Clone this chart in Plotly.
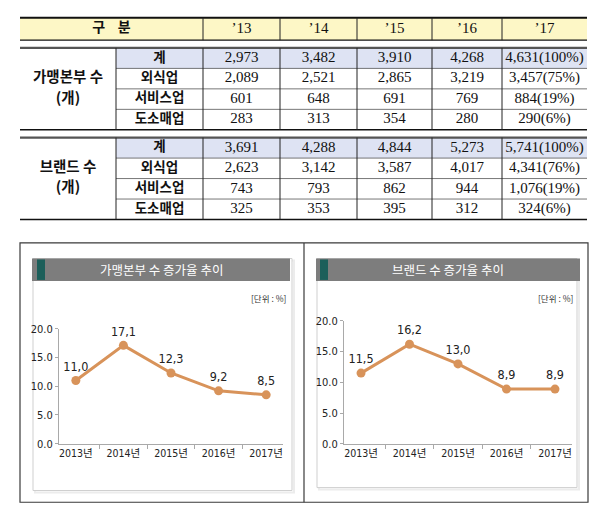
import plotly.graph_objects as go

# ---------------- data ----------------
table_header = ["구    분", "’13", "’14", "’15", "’16", "’17"]
row_labels = ["계", "외식업", "서비스업", "도소매업"]
group_labels = [("가맹본부 수", "(개)"), ("브랜드 수", "(개)")]

hq_total = [2973, 3482, 3910, 4268, 4631]
hq_food = [2089, 2521, 2865, 3219, 3457]
hq_service = [601, 648, 691, 769, 884]
hq_retail = [283, 313, 354, 280, 290]
hq_share17 = [100, 75, 19, 6]

br_total = [3691, 4288, 4844, 5273, 5741]
br_food = [2623, 3142, 3587, 4017, 4341]
br_service = [743, 793, 862, 944, 1076]
br_retail = [325, 353, 395, 312, 324]
br_share17 = [100, 76, 19, 6]

chart_years = ["2013년", "2014년", "2015년", "2016년", "2017년"]
hq_growth = [11.0, 17.1, 12.3, 9.2, 8.5]
br_growth = [11.5, 16.2, 13.0, 8.9, 8.9]
chart_titles = ["가맹본부 수 증가율 추이", "브랜드 수 증가율 추이"]
unit_label = "[단위 : %]"
y_ticks = [0, 5, 10, 15, 20]

# ---------------- layout constants ----------------
W, H = 600, 518
KR = "Noto Sans CJK KR"
SERIF = "Liberation Serif, DejaVu Serif, serif"
NARROW = "Liberation Sans Narrow, DejaVu Sans Condensed, Noto Sans CJK KR"
LINE_COLOR = "#D8935A"


def px(x):
    return x / W


def py(y):
    return 1 - y / H


fig = go.Figure()
shapes = []
annotations = []

# ================= TABLE (on its own axes) =================
col_w = [96, 87, 77, 77, 75, 70, 85]
col_edges = [0]
for w in col_w:
    col_edges.append(col_edges[-1] + w)
col_c = [(col_edges[i] + col_edges[i + 1]) / 2 for i in range(len(col_w))]
tot_w = col_edges[-1]

hdr_h, gap_h, row_h = 23, 8, 21
sec_tops = [hdr_h + gap_h, hdr_h + gap_h + 4 * row_h + gap_h]
tot_h = sec_tops[1] + 4 * row_h

TX0, TY0 = 20, 12  # table origin in page pixels
PAD = 3

fig.update_layout(
    xaxis3=dict(domain=[px(TX0 - PAD), px(TX0 + tot_w + PAD)], range=[-PAD, tot_w + PAD],
                visible=False, fixedrange=True),
    yaxis3=dict(domain=[py(TY0 + tot_h + PAD), py(TY0 - PAD)], range=[tot_h + PAD, -PAD],
                visible=False, fixedrange=True, anchor="x3"),
)


def tshape(**kw):
    d = dict(xref="x3", yref="y3", layer="below")
    d.update(kw)
    shapes.append(d)


def tline(x0, y0, x1, y1, color="#000", width=1):
    tshape(type="line", x0=x0, y0=y0, x1=x1, y1=y1, line=dict(color=color, width=width), layer="above")


# header
tshape(type="rect", x0=0, x1=tot_w, y0=0, y1=hdr_h, fillcolor="#fdf7c6", line=dict(width=0))
tline(0, 0, tot_w, 0, "#111", 2)
tline(0, hdr_h, tot_w, hdr_h, "#111", 1.2)
for e in col_edges[2:-1]:
    tline(e, 0, e, hdr_h, "#222", 1)

hdr_x = [(col_edges[0] + col_edges[2]) / 2] + col_c[2:]
fig.add_trace(go.Scatter(
    x=[hdr_x[0]], y=[hdr_h / 2], mode="text", text=[table_header[0]],
    textfont=dict(family=KR, size=14, color="#111", weight="bold"),
    xaxis="x3", yaxis="y3", hoverinfo="skip", cliponaxis=False))
fig.add_trace(go.Scatter(
    x=hdr_x[1:], y=[hdr_h / 2] * 5, mode="text", text=table_header[1:],
    textfont=dict(family=SERIF, size=15, color="#111"),
    xaxis="x3", yaxis="y3", hoverinfo="skip", cliponaxis=False))

sections = [
    (group_labels[0], [hq_total, hq_food, hq_service, hq_retail], hq_share17),
    (group_labels[1], [br_total, br_food, br_service, br_retail], br_share17),
]

for (glab, rows, shares), top in zip(sections, sec_tops):
    bot = top + 4 * row_h
    # 계 row highlight
    tshape(type="rect", x0=col_edges[1], x1=tot_w, y0=top, y1=top + row_h,
           fillcolor="#dee3f3", line=dict(width=0))
    tline(0, top, tot_w, top, "#555", 2.2)
    tline(0, bot, tot_w, bot, "#111", 1.4)
    for r in range(1, 4):
        yy = top + r * row_h
        tline(col_edges[1], yy, tot_w, yy, "#555", 0.8)
    for e in col_edges[1:-1]:
        tline(e, top, e, bot, "#222", 1)

    centers = [top + (r + 0.5) * row_h for r in range(4)]
    # group label (two lines, centred on rows 2 and 3)
    fig.add_trace(go.Scatter(
        x=[col_c[0], col_c[0]], y=[centers[1], centers[2]], mode="text", text=list(glab),
        textfont=dict(family=KR, size=14.5, color="#111", weight="bold"),
        xaxis="x3", yaxis="y3", hoverinfo="skip", cliponaxis=False))
    # sub labels
    fig.add_trace(go.Scatter(
        x=[col_c[1]] * 4, y=centers, mode="text", text=row_labels,
        textfont=dict(family=KR, size=13.5, color="#111", weight="bold"),
        xaxis="x3", yaxis="y3", hoverinfo="skip", cliponaxis=False))
    # values
    xs, ys, ts = [], [], []
    for r, vals in enumerate(rows):
        for c, v in enumerate(vals):
            xs.append(col_c[2 + c])
            ys.append(centers[r])
            if c == 4:
                ts.append(f"{v:,}({shares[r]}%)")
            else:
                ts.append(f"{v:,}")
    fig.add_trace(go.Scatter(
        x=xs, y=ys, mode="text", text=ts,
        textfont=dict(family=SERIF, size=15, color="#111"),
        xaxis="x3", yaxis="y3", hoverinfo="skip", cliponaxis=False))

# ================= CHARTS =================
# outer frame and divider
shapes.append(dict(type="rect", xref="paper", yref="paper", x0=px(20), x1=px(588), y0=py(509), y1=py(243),
                   line=dict(color="#3a3a3a", width=1.2), layer="below"))
shapes.append(dict(type="line", xref="paper", yref="paper", x0=px(304), x1=px(304), y0=py(509), y1=py(243),
                   line=dict(color="#3a3a3a", width=1.2), layer="below"))

panels = [
    dict(box=(33, 292, 259, 497), bar=(32, 290, 259, 282), acc=(37, 45), unit_x=288,
         xdom=(59, 283), ydom=(331, 449), values=hq_growth, xa="x", ya="y", title=chart_titles[0]),
    dict(box=(317, 577, 259, 494), bar=(316, 580, 259, 282), acc=(320, 328), unit_x=575,
         xdom=(344, 572), ydom=(323, 449), values=br_growth, xa="x2", ya="y2", title=chart_titles[1]),
]

for i, p in enumerate(panels):
    bx0, bx1, by0, by1 = p["box"]
    # soft shadow
    shapes.append(dict(type="rect", xref="paper", yref="paper", x0=px(bx0 + 2), x1=px(bx1 + 2),
                       y0=py(by1 + 2), y1=py(by0 + 2), line=dict(color="#ececec", width=2),
                       fillcolor="rgba(0,0,0,0)", layer="below"))
    shapes.append(dict(type="rect", xref="paper", yref="paper", x0=px(bx0), x1=px(bx1),
                       y0=py(by1), y1=py(by0), line=dict(color="#cfcfcf", width=1),
                       fillcolor="#ffffff", layer="below"))
    tx0, tx1, ty0, ty1 = p["bar"]
    shapes.append(dict(type="rect", xref="paper", yref="paper", x0=px(tx0), x1=px(tx1),
                       y0=py(ty1), y1=py(ty0), line=dict(width=0), fillcolor="#7d7d7d", layer="below"))
    ax0, ax1 = p["acc"]
    shapes.append(dict(type="rect", xref="paper", yref="paper", x0=px(ax0), x1=px(ax1),
                       y0=py(ty1 - 1), y1=py(ty0 + 1), line=dict(width=0), fillcolor="#1c5f5a", layer="below"))
    annotations.append(dict(xref="paper", yref="paper", x=px((tx0 + tx1) / 2), y=py((ty0 + ty1) / 2),
                            text=p["title"], showarrow=False, xanchor="center", yanchor="middle",
                            font=dict(family=KR, size=12.5, color="#ffffff")))
    annotations.append(dict(xref="paper", yref="paper", x=px(p["unit_x"]), y=py(300),
                            text=unit_label, showarrow=False, xanchor="right", yanchor="middle",
                            font=dict(family=KR, size=8.5, color="#333")))

    xn = "xaxis" if i == 0 else "xaxis2"
    yn = "yaxis" if i == 0 else "yaxis2"
    fig.update_layout(**{
        xn: dict(domain=[px(p["xdom"][0]), px(p["xdom"][1])], type="category",
                 anchor=p["ya"], showline=True, linecolor="#a9a9a9", linewidth=1,
                 ticks="outside", tickson="boundaries", ticklen=4, tickcolor="#a9a9a9",
                 showgrid=False, zeroline=False, fixedrange=True,
                 tickfont=dict(family=NARROW, size=10.5, color="#222")),
        yn: dict(domain=[py(p["ydom"][1]), py(p["ydom"][0])], range=[0, 20],
                 anchor=p["xa"], showline=True, linecolor="#a9a9a9", linewidth=1,
                 ticks="outside", ticklen=3, tickcolor="#a9a9a9", tickvals=y_ticks,
                 tickformat=".1f", showgrid=False, zeroline=False, fixedrange=True,
                 tickfont=dict(family=NARROW, size=11, color="#222")),
    })

    fig.add_trace(go.Scatter(
        x=chart_years, y=p["values"], mode="lines+markers+text",
        text=[f"{v:.1f}".replace(".", ",") for v in p["values"]],
        textposition="top center",
        textfont=dict(family=NARROW, size=12.5, color="#222"),
        line=dict(color=LINE_COLOR, width=3),
        marker=dict(color=LINE_COLOR, size=9, symbol="circle"),
        xaxis=p["xa"], yaxis=p["ya"], hoverinfo="skip", cliponaxis=False))

fig.update_layout(
    width=W, height=H, margin=dict(l=0, r=0, t=0, b=0),
    paper_bgcolor="#ffffff", plot_bgcolor="rgba(0,0,0,0)",
    showlegend=False, shapes=shapes, annotations=annotations,
)

fig.write_html("out.html", config={"displayModeBar": False},
               post_script="document.body.style.margin='0';")
